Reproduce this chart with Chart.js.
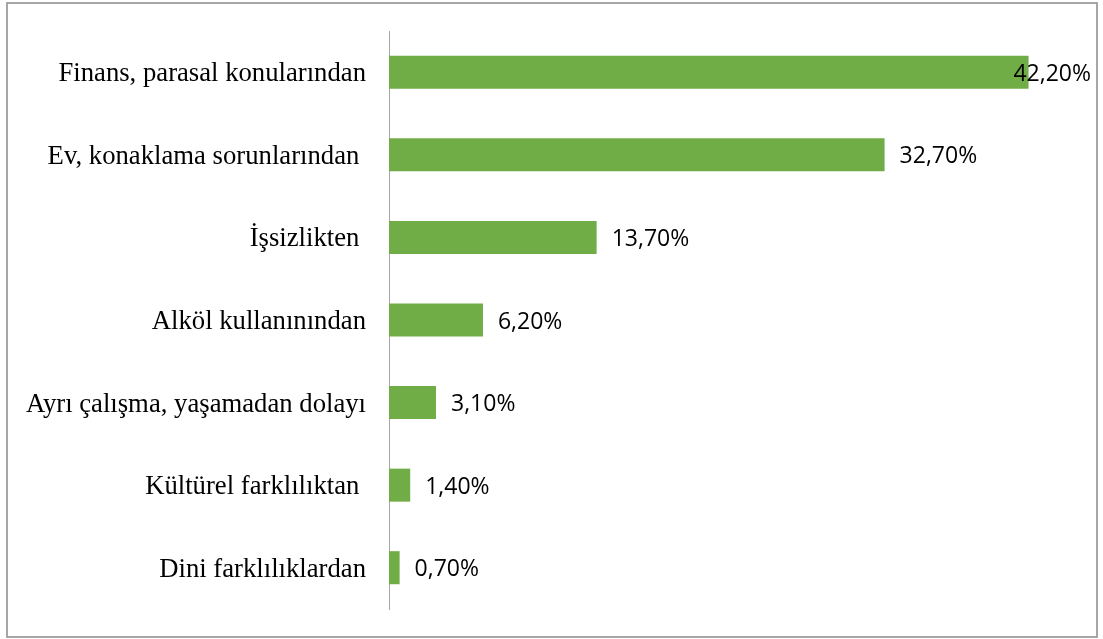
<!DOCTYPE html>
<html>
<head>
<meta charset="utf-8">
<script src="https://cdn.jsdelivr.net/npm/chart.js@4"></script>
<style>
  html, body { margin: 0; padding: 0; background: #fff; }
  #wrap { width: 1103px; height: 639px; position: relative; }
</style>
</head>
<body>
<div id="wrap"><canvas id="chart" width="1103" height="639"></canvas></div>
<script>
const categories = [
  'Finans, parasal konularından',
  'Ev, konaklama sorunlarından ',
  'İşsizlikten ',
  'Alköl kullanınından',
  'Ayrı çalışma, yaşamadan dolayı',
  'Kültürel farklılıktan ',
  'Dini farklılıklardan'
]
const values = [42.2, 32.7, 13.7, 6.2, 3.1, 1.4, 0.7]
const valueLabels = ['42,20%', '32,70%', '13,70%', '6,20%', '3,10%', '1,40%', '0,70%']

// frame, category names and value labels
const decor = {
  id: 'decor',
  afterDraw(chart) {
    const ctx = chart.ctx
    const area = chart.chartArea
    const y = chart.scales.y
    ctx.save()
    ctx.strokeStyle = '#a6a6a6'
    ctx.lineWidth = 2
    ctx.strokeRect(7, 3, 1090, 634)

    ctx.fillStyle = '#000'
    ctx.font = '26.7px "Liberation Serif"'
    ctx.textAlign = 'right'
    ctx.textBaseline = 'middle'
    categories.forEach((c, i) => {
      ctx.fillText(c, area.left - 23, y.getPixelForValue(i) + 2)
    })

    ctx.font = '23px "Open Sans"'
    ctx.textAlign = 'left'
    const meta = chart.getDatasetMeta(0)
    meta.data.forEach((bar, i) => {
      const w = ctx.measureText(valueLabels[i]).width
      let x = bar.x + 15
      if (x + w > 1091) x = 1091 - w
      ctx.fillText(valueLabels[i], x, bar.y + 2)
    })
    ctx.restore()
  }
}

new Chart(document.getElementById('chart'), {
  type: 'bar',
  data: {
    labels: categories,
    datasets: [{
      data: values,
      backgroundColor: '#70ad47',
      categoryPercentage: 1,
      barPercentage: 0.4
    }]
  },
  options: {
    indexAxis: 'y',
    responsive: false,
    animation: false,
    layout: { padding: { left: 389, right: 32, top: 31, bottom: 30 } },
    plugins: { legend: { display: false }, tooltip: { enabled: false } },
    scales: {
      x: { display: false, min: 0, max: 45 },
      y: {
        grid: { display: false, drawTicks: false },
        border: { display: true, color: '#a6a6a6', width: 1 },
        ticks: { display: false }
      }
    }
  },
  plugins: [decor]
})
</script>
</body>
</html>
